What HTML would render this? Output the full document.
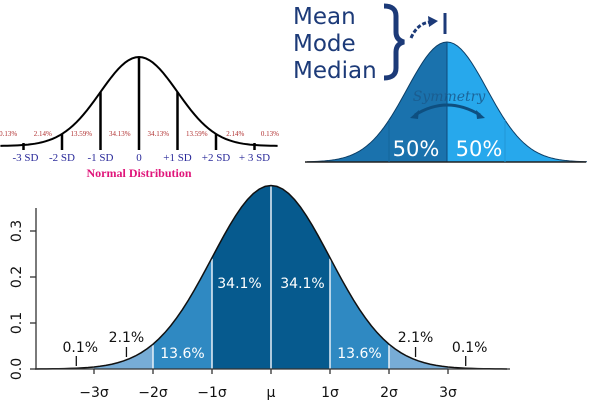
<!DOCTYPE html>
<html><head><meta charset="utf-8"><style>
html,body{margin:0;padding:0;background:#fff;}
svg{display:block;}
</style></head><body>
<svg width="600" height="412" viewBox="0 0 600 412" xmlns="http://www.w3.org/2000/svg">
<g id="tl"></g>
<g id="tr"></g>
<g id="bt"></g>
</svg>
<script>
// ---------- data ----------
const tlSdLabels = ["-3 SD","-2 SD","-1 SD","0","+1 SD","+2 SD","+ 3 SD"];
const tlSdValues = [-3,-2,-1,0,1,2,3];
const tlPctLabels = ["0.13%","2.14%","13.59%","34.13%","34.13%","13.59%","2.14%","0.13%"];
const tlPctCenters = [-3.4,-2.5,-1.5,-0.5,0.5,1.5,2.5,3.4];

const trHalves = ["50%","50%"];

const btSigma = [-3,-2,-1,0,1,2,3];
const btSigmaLabels = ["\u22123\u03c3","\u22122\u03c3","\u22121\u03c3","\u03bc","1\u03c3","2\u03c3","3\u03c3"];
const btYTicks = [0.0,0.1,0.2,0.3];
const btYTickLabels = ["0.0","0.1","0.2","0.3"];
const btInnerPct = ["13.6%","34.1%","34.1%","13.6%"];
const btInnerCenters = [-1.5,-0.5,0.5,1.5];
const btOuterPct = ["0.1%","2.1%","2.1%","0.1%"];
const btOuterAt = [-3.3,-2.45,2.45,3.3];

const NS="http://www.w3.org/2000/svg";
function mk(tag,parent,attrs){const e=document.createElementNS(NS,tag);for(const k in attrs)e.setAttribute(k,attrs[k]);parent.appendChild(e);return e;}
function pdf(z){return Math.exp(-z*z/2)/Math.sqrt(2*Math.PI);}
function curvePts(a,b,fx,fy){let p=[];for(let i=0;i<=80;i++){const z=a+(b-a)*i/80;p.push(fx(z).toFixed(2)+","+fy(pdf(z)).toFixed(2));}return p;}

// ---------- top-left ----------
(function(){
const g=document.getElementById('tl');
const cx=139,sd=38.5,base=146,amp=89;
const fx=z=>cx+z*sd, fy=v=>base-amp*v/pdf(0);
const c=mk('polyline',g,{points:curvePts(-3.6,3.6,fx,fy).join(' '),fill:'none',stroke:'#000','stroke-width':2});

tlSdValues.forEach((s,i)=>{
  const far=Math.abs(s)===3;
  const l=mk('line',g,{x1:fx(s),x2:fx(s),y1:far?fy(pdf(s))-2:fy(pdf(s)),y2:150,stroke:'#000','stroke-width':2.5});
  
  const t=mk('text',g,{x:fx(s)+(s===-3?2:0),y:161,'text-anchor':'middle','font-family':'Liberation Serif, serif','font-size':11,fill:'#2a2a9a'});
  t.textContent=tlSdLabels[i];
  
});
tlPctLabels.forEach((p,i)=>{
  const t=mk('text',g,{x:fx(tlPctCenters[i]),y:136,'text-anchor':'middle','font-family':'Liberation Serif, serif','font-size':7,fill:'#b03030'});
  t.textContent=p;
});
const ti=mk('text',g,{x:139,y:177,'text-anchor':'middle','font-family':'Liberation Serif, serif','font-weight':'bold','font-size':12,fill:'#e0157a'});
ti.textContent="Normal Distribution";
})();

// ---------- top-right ----------
(function(){
const g=document.getElementById('tr');
const cx=447,sd=40,base=162,amp=120;
const fx=z=>cx+z*sd, fy=v=>base-amp*v/pdf(0);
const L=mk('polygon',g,{points:[fx(-3.5)+","+base].concat(curvePts(-3.5,0,fx,fy)).concat([cx+","+base]).join(' '),fill:'#1a72ad'});

const R=mk('polygon',g,{points:[cx+","+base].concat(curvePts(0,3.5,fx,fy)).concat([fx(3.5)+","+base]).join(' '),fill:'#27a8ec'});

mk('polyline',g,{points:curvePts(-3.5,3.5,fx,fy).join(' '),fill:'none',stroke:'#0c3e66','stroke-width':1});
mk('line',g,{x1:cx,x2:cx,y1:42,y2:base,stroke:'#0d4a7a','stroke-width':1});
mk('line',g,{x1:305,x2:586,y1:base,y2:base,stroke:'#222','stroke-width':1.5});
[-1,1].forEach(s=>mk('line',g,{x1:fx(s*1.45),x2:fx(s*1.45),y1:fy(pdf(1.45)),y2:base,stroke:s<0?'#14659c':'#2096d6','stroke-width':1}));
trHalves.forEach((h,i)=>{const t=mk('text',g,{x:i?479:416,y:156,'text-anchor':'middle','font-family':'DejaVu Sans, sans-serif','font-size':21,fill:'#fff'});
  t.textContent=h;});
const sy=mk('text',g,{x:449,y:101,'text-anchor':'middle','font-family':'DejaVu Serif, serif','font-style':'italic','font-size':14,fill:'#1a5a8c','opacity':0.85});
sy.textContent="Symmetry";
mk('path',g,{d:'M415 115 Q447 95 480 115',fill:'none',stroke:'#0e4f80','stroke-width':3});
mk('path',g,{d:'M410 118 l9 -8 l-1 9 z M485 118 l-9 -8 l1 9 z',fill:'#0e4f80'});
['Mean','Mode','Median'].forEach((w,i)=>{const t=mk('text',g,{x:293,y:24+i*27,'font-family':'DejaVu Sans, sans-serif','font-size':23,fill:'#1c3a78'});
  t.textContent=w;});
mk('path',g,{d:'M384 6 Q396 6 396 16 L396 32 Q396 40 404 42 Q396 44 396 52 L396 68 Q396 78 384 78',fill:'none',stroke:'#1c3a78','stroke-width':5});
mk('path',g,{d:'M411 38 Q418 22 432 22',fill:'none',stroke:'#1c3a78','stroke-width':3,'stroke-dasharray':'4 2'});
mk('path',g,{d:'M428 16 l10 5 l-9 6 z',fill:'#1c3a78'});
mk('line',g,{x1:445,x2:445,y1:13,y2:34,stroke:'#1c3a78','stroke-width':3});
})();

// ---------- bottom ----------
(function(){
const g=document.getElementById('bt');
const cx=271,sd=59,base=369,perUnit=460;
const fx=z=>cx+z*sd, fy=v=>base-v*perUnit;
function band(a,b,col,name){const p=mk('polygon',g,{points:[fx(a)+","+base].concat(curvePts(a,b,fx,fy)).concat([fx(b)+","+base]).join(' '),fill:col});
  }
band(-4,-3,'#c8dcea','band-tail-left');band(3,4,'#c8dcea','band-tail-right');
band(-3,-2,'#77acd6','band-2sd-left');band(2,3,'#77acd6','band-2sd-right');
band(-2,-1,'#2f89c2','band-1sd-left');band(1,2,'#2f89c2','band-1sd-right');
band(-1,1,'#065a8e','band-center');
[-2,-1,0,1,2].forEach(s=>{const l=mk('line',g,{x1:fx(s),x2:fx(s),y1:fy(pdf(s))+1,y2:base,stroke:'#e6f0f8','stroke-width':1.5});
  });
const c=mk('polyline',g,{points:curvePts(-4,4,fx,fy).join(' '),fill:'none',stroke:'#111','stroke-width':1.5});

const xa=mk('line',g,{x1:36,x2:510,y1:base,y2:base,stroke:'#333','stroke-width':1.3});

const ya=mk('line',g,{x1:36,x2:36,y1:208,y2:base,stroke:'#333','stroke-width':1.3});

btYTicks.forEach((v,i)=>{mk('line',g,{x1:30,x2:36,y1:fy(v),y2:fy(v),stroke:'#333','stroke-width':1.3});
  const t=mk('text',g,{x:0,y:0,transform:`translate(21,${fy(v)}) rotate(-90)`,'text-anchor':'middle','font-family':'DejaVu Sans, sans-serif','font-size':14,fill:'#111'});
  t.textContent=btYTickLabels[i];});
btSigma.forEach((s,i)=>{mk('line',g,{x1:fx(s),x2:fx(s),y1:base,y2:base+5,stroke:'#333','stroke-width':1.3});
  const t=mk('text',g,{x:fx(s),y:397,'text-anchor':'middle','font-family':'DejaVu Sans, sans-serif','font-size':14,fill:'#111'});
  t.textContent=btSigmaLabels[i];});
btInnerPct.forEach((p,i)=>{const z=btInnerCenters[i];const t=mk('text',g,{x:fx(z)+(Math.abs(z)<1?(z<0?-2:2):0),y:Math.abs(z)<1?288:358,'text-anchor':'middle','font-family':'DejaVu Sans, sans-serif','font-size':14,fill:'#fff'});
  t.textContent=p;});
btOuterPct.forEach((p,i)=>{const z=btOuterAt[i];const far=Math.abs(z)>3;
  mk('line',g,{x1:fx(z),x2:fx(z),y1:far?356:347,y2:far?366:357,stroke:'#111','stroke-width':1.3});
  const t=mk('text',g,{x:fx(z)+(far?4:0),y:far?352:342,'text-anchor':'middle','font-family':'DejaVu Sans, sans-serif','font-size':14,fill:'#111'});
  t.textContent=p;});
})();
</script>
</body></html>
